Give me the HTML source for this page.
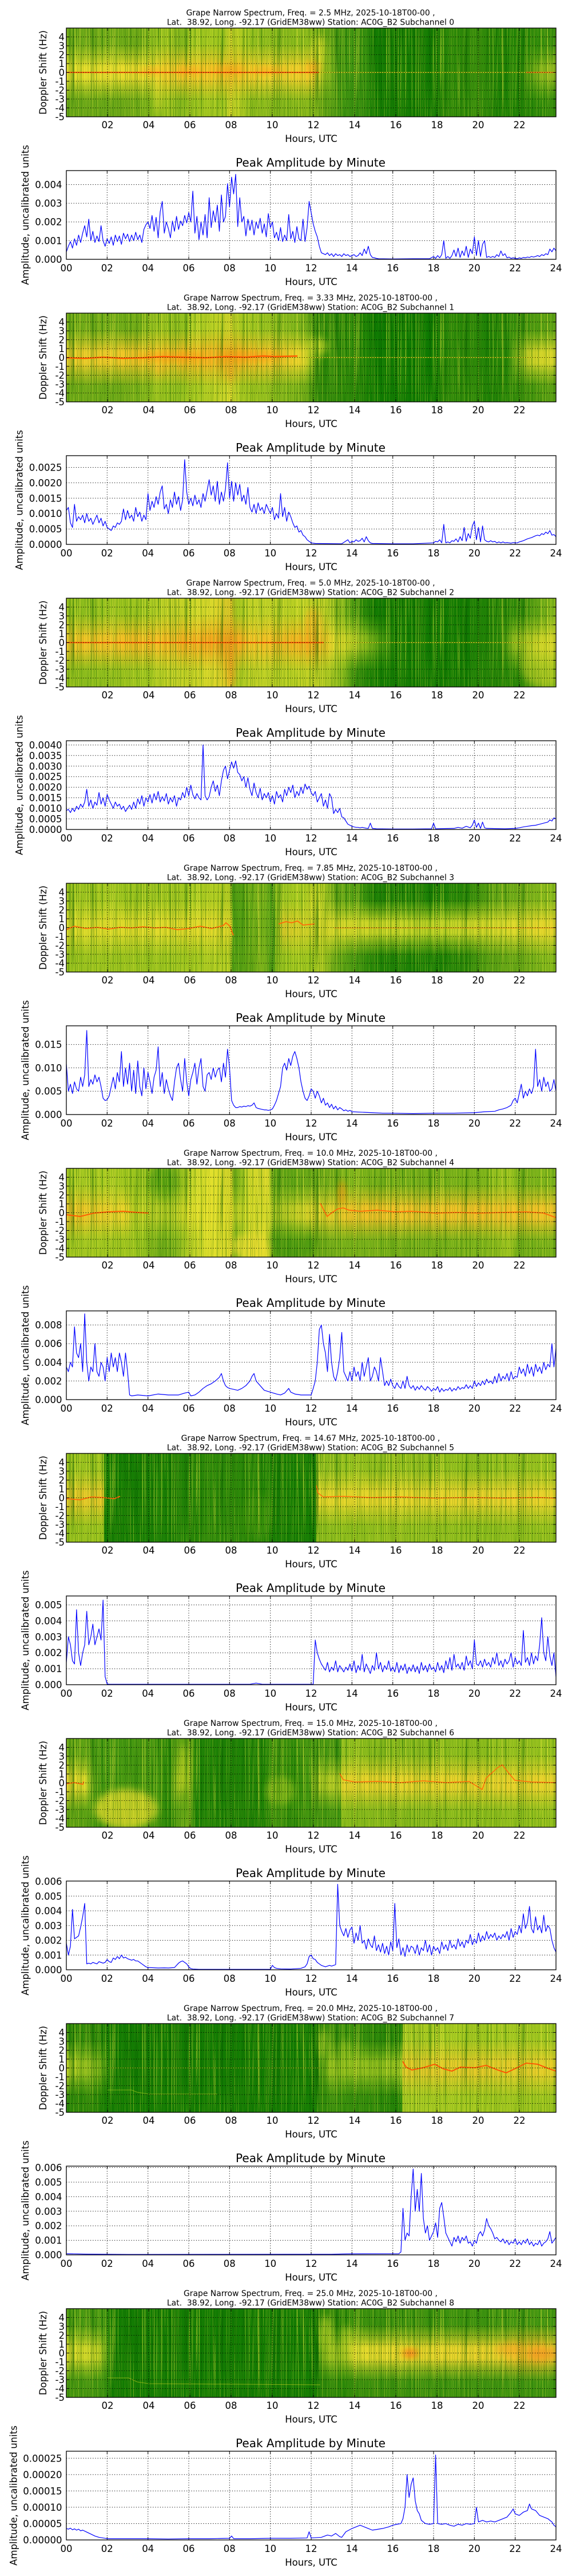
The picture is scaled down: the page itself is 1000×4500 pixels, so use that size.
<!DOCTYPE html>
<html><head><meta charset="utf-8"><style>
html,body{margin:0;padding:0;background:#fff}
svg{display:block}
text{font-family:"DejaVu Sans","Liberation Sans",sans-serif;fill:#000}
.st{font-size:13.9px;text-anchor:middle}
.tk{font-size:16.5px}
.tm{text-anchor:middle}
.te{text-anchor:end}
.lt{font-size:20px;text-anchor:middle}
.gd{fill:none;stroke:#000;stroke-width:1;stroke-dasharray:1.2 3}
.dl{fill:none;stroke:#0000ff;stroke-width:1.2;vector-effect:non-scaling-stroke;stroke-linejoin:round}
.fx{filter:url(#bl)}
</style></head><body>
<svg xmlns="http://www.w3.org/2000/svg" width="1000" height="4500" viewBox="0 0 1000 4500">
<defs>
<linearGradient id="vb" x1="0" y1="0" x2="0" y2="1">
<stop offset="0" stop-color="#000"/><stop offset="0.18" stop-color="#000"/><stop offset="0.34" stop-color="#888"/><stop offset="0.44" stop-color="#fff"/><stop offset="0.56" stop-color="#fff"/><stop offset="0.66" stop-color="#888"/><stop offset="0.82" stop-color="#000"/><stop offset="1" stop-color="#000"/>
</linearGradient>
<mask id="mb" maskContentUnits="objectBoundingBox"><rect width="1" height="1" fill="url(#vb)"/></mask>
<filter id="tx" x="0" y="0" width="1" height="1" color-interpolation-filters="sRGB">
<feTurbulence type="fractalNoise" baseFrequency="0.6 0.005" numOctaves="2" seed="4" result="n"/>
<feColorMatrix in="n" type="matrix" values="0 0 0 0 0.03  0 0 0 0 0.35  0 0 0 0 0  3.5 0 0 0 -1.75" result="d"/>
<feColorMatrix in="n" type="matrix" values="0 0 0 0 0.92  0 0 0 0 0.92  0 0 0 0 0.25  0 3.5 0 0 -1.85" result="l"/>
<feMerge><feMergeNode in="d"/><feMergeNode in="l"/></feMerge>
</filter>
<filter id="bl" x="-60%" y="-60%" width="220%" height="220%"><feGaussianBlur stdDeviation="6"/></filter>
<clipPath id="cs"><rect x="116" y="49" width="856" height="155"/></clipPath>
<clipPath id="cl"><rect x="116" y="298" width="856" height="155"/></clipPath>

<linearGradient id="e0" gradientUnits="userSpaceOnUse" x1="116" y1="0" x2="972" y2="0">
<stop offset="0" stop-color="#6daa18"/><stop offset=".084" stop-color="#6aa817"/><stop offset=".147" stop-color="#72ac18"/><stop offset=".181" stop-color="#8dbd1c"/><stop offset=".21" stop-color="#a0c61f"/><stop offset=".231" stop-color="#80b51a"/><stop offset=".252" stop-color="#98c21e"/><stop offset=".294" stop-color="#a3c81f"/><stop offset=".32" stop-color="#9cc41e"/><stop offset=".336" stop-color="#cfd628"/><stop offset=".353" stop-color="#b8cf22"/><stop offset=".378" stop-color="#8fbd1c"/><stop offset=".442" stop-color="#84b71a"/><stop offset=".505" stop-color="#8ab91b"/><stop offset=".53" stop-color="#5fa314"/><stop offset=".568" stop-color="#3d9310"/><stop offset=".61" stop-color="#348e0e"/><stop offset=".631" stop-color="#137c03"/><stop offset=".757" stop-color="#147c03"/><stop offset=".765" stop-color="#2a8708"/><stop offset=".82" stop-color="#2e8909"/><stop offset=".841" stop-color="#3a8f0c"/><stop offset=".883" stop-color="#1d8105"/><stop offset=".925" stop-color="#1f8205"/><stop offset=".967" stop-color="#2e8a0a"/><stop offset="1" stop-color="#3a900d"/>
</linearGradient>
<linearGradient id="b0" gradientUnits="userSpaceOnUse" x1="116" y1="0" x2="972" y2="0">
<stop offset="0" stop-color="#e6df2c"/><stop offset=".168" stop-color="#ecd92c"/><stop offset=".21" stop-color="#f3c828"/><stop offset=".336" stop-color="#f5c426"/><stop offset=".421" stop-color="#efcf2a"/><stop offset=".505" stop-color="#f0c828"/><stop offset=".526" stop-color="#c8d428" stop-opacity=".6"/><stop offset=".547" stop-color="#c8d428" stop-opacity="0"/><stop offset=".925" stop-color="#c8d428" stop-opacity="0"/><stop offset=".967" stop-color="#c8d428" stop-opacity=".5"/><stop offset="1" stop-color="#d0d42a" stop-opacity=".6"/>
</linearGradient>

<linearGradient id="e1" gradientUnits="userSpaceOnUse" x1="116" y1="0" x2="972" y2="0">
<stop offset="0" stop-color="#73ad18"/><stop offset=".084" stop-color="#6ca917"/><stop offset=".147" stop-color="#78b019"/><stop offset=".189" stop-color="#9cc41e"/><stop offset=".231" stop-color="#8dbd1c"/><stop offset=".252" stop-color="#a5c920"/><stop offset=".294" stop-color="#b3cd22"/><stop offset=".336" stop-color="#d6d82a"/><stop offset=".357" stop-color="#a9c920"/><stop offset=".40" stop-color="#95c01d"/><stop offset=".463" stop-color="#80b51a"/><stop offset=".492" stop-color="#6aa816"/><stop offset=".517" stop-color="#2f8a0a"/><stop offset=".589" stop-color="#2a8708"/><stop offset=".631" stop-color="#0f7b02"/><stop offset=".757" stop-color="#0f7b02"/><stop offset=".765" stop-color="#2a8708"/><stop offset=".841" stop-color="#2a8708"/><stop offset=".862" stop-color="#1c8005"/><stop offset=".904" stop-color="#2a8708"/><stop offset="1" stop-color="#5fa314"/>
</linearGradient>
<linearGradient id="b1" gradientUnits="userSpaceOnUse" x1="116" y1="0" x2="972" y2="0">
<stop offset="0" stop-color="#eecd2a"/><stop offset=".168" stop-color="#f3c226"/><stop offset=".252" stop-color="#f5b822"/><stop offset=".336" stop-color="#f5b020"/><stop offset=".421" stop-color="#f3c226"/><stop offset=".484" stop-color="#e8d42a"/><stop offset=".505" stop-color="#c8d428" stop-opacity=".4"/><stop offset=".526" stop-color="#c8d428" stop-opacity="0"/><stop offset=".904" stop-color="#e6dc2c" stop-opacity="0"/><stop offset=".946" stop-color="#e6dc2c" stop-opacity=".8"/><stop offset="1" stop-color="#e8da2c" stop-opacity=".9"/>
</linearGradient>

<linearGradient id="e2" gradientUnits="userSpaceOnUse" x1="116" y1="0" x2="972" y2="0">
<stop offset="0" stop-color="#9cc41e"/><stop offset=".042" stop-color="#8bbd1c"/><stop offset=".105" stop-color="#9ac31e"/><stop offset=".168" stop-color="#a5c920"/><stop offset=".21" stop-color="#c4d226"/><stop offset=".252" stop-color="#c6d326"/><stop offset=".294" stop-color="#d9d82a"/><stop offset=".336" stop-color="#e2c828"/><stop offset=".349" stop-color="#a8c920"/><stop offset=".378" stop-color="#c2d226"/><stop offset=".463" stop-color="#b8cf22"/><stop offset=".505" stop-color="#c4d226"/><stop offset=".526" stop-color="#bcd024"/><stop offset=".568" stop-color="#7db41a"/><stop offset=".589" stop-color="#3a900d"/><stop offset=".631" stop-color="#137c03"/><stop offset=".82" stop-color="#137c03"/><stop offset=".841" stop-color="#1f8206"/><stop offset=".925" stop-color="#2a8708"/><stop offset=".967" stop-color="#5fa314"/><stop offset="1" stop-color="#8dbd1c"/>
</linearGradient>
<linearGradient id="b2" gradientUnits="userSpaceOnUse" x1="116" y1="0" x2="972" y2="0">
<stop offset="0" stop-color="#f3c426"/><stop offset=".21" stop-color="#f4b822"/><stop offset=".336" stop-color="#f4a01c"/><stop offset=".378" stop-color="#f3c426"/><stop offset=".463" stop-color="#f0b420"/><stop offset=".505" stop-color="#f3a81e"/><stop offset=".547" stop-color="#e2d82a"/><stop offset=".589" stop-color="#c2d024" stop-opacity=".8"/><stop offset=".631" stop-color="#a9cb22" stop-opacity=".5"/><stop offset=".673" stop-color="#a9cb22" stop-opacity="0"/><stop offset=".883" stop-color="#c8d426" stop-opacity="0"/><stop offset=".925" stop-color="#c8d426" stop-opacity=".7"/><stop offset="1" stop-color="#e2d82a" stop-opacity=".9"/>
</linearGradient>

<linearGradient id="e3" gradientUnits="userSpaceOnUse" x1="116" y1="0" x2="972" y2="0">
<stop offset="0" stop-color="#9cc41e"/><stop offset=".084" stop-color="#a0c61f"/><stop offset=".168" stop-color="#9cc41e"/><stop offset=".252" stop-color="#a3c81f"/><stop offset=".315" stop-color="#b3cd22"/><stop offset=".332" stop-color="#b8cf22"/><stop offset=".341" stop-color="#4f9d12"/><stop offset=".37" stop-color="#5da313"/><stop offset=".40" stop-color="#7db41a"/><stop offset=".421" stop-color="#3f9410"/><stop offset=".429" stop-color="#8dbd1c"/><stop offset=".463" stop-color="#a3c81f"/><stop offset=".505" stop-color="#9cc41e"/><stop offset=".521" stop-color="#b3cd22"/><stop offset=".547" stop-color="#6aa816"/><stop offset=".589" stop-color="#4a9a11"/><stop offset=".631" stop-color="#1f8206"/><stop offset=".757" stop-color="#1a8005"/><stop offset=".82" stop-color="#2a8708"/><stop offset=".862" stop-color="#5aa113"/><stop offset=".925" stop-color="#6aa816"/><stop offset="1" stop-color="#8dbd1c"/>
</linearGradient>
<linearGradient id="b3" gradientUnits="userSpaceOnUse" x1="116" y1="0" x2="972" y2="0">
<stop offset="0" stop-color="#dedb2a"/><stop offset=".336" stop-color="#e2d82a"/><stop offset=".341" stop-color="#e2d82a" stop-opacity="0"/><stop offset=".429" stop-color="#e6c828" stop-opacity="0"/><stop offset=".442" stop-color="#e6c828" stop-opacity=".8"/><stop offset=".505" stop-color="#dcd42a" stop-opacity=".7"/><stop offset=".547" stop-color="#d9d82a"/><stop offset=".631" stop-color="#c8d426"/><stop offset=".757" stop-color="#b9d024"/><stop offset=".841" stop-color="#cfd628"/><stop offset=".925" stop-color="#dfd82a"/><stop offset="1" stop-color="#e6d22a"/>
</linearGradient>

<linearGradient id="e4" gradientUnits="userSpaceOnUse" x1="116" y1="0" x2="972" y2="0">
<stop offset="0" stop-color="#a9cb22"/><stop offset=".126" stop-color="#a3c81f"/><stop offset=".168" stop-color="#8dbd1c"/><stop offset=".189" stop-color="#6aa816"/><stop offset=".223" stop-color="#7db41a"/><stop offset=".252" stop-color="#b9d024"/><stop offset=".294" stop-color="#e2e02c"/><stop offset=".336" stop-color="#d9d82a"/><stop offset=".345" stop-color="#6aa816"/><stop offset=".362" stop-color="#a9cb22"/><stop offset=".378" stop-color="#d0d628"/><stop offset=".412" stop-color="#dcd92a"/><stop offset=".421" stop-color="#5fa314"/><stop offset=".463" stop-color="#5aa113"/><stop offset=".505" stop-color="#6aa816"/><stop offset=".589" stop-color="#7db41a"/><stop offset=".673" stop-color="#74af18"/><stop offset=".757" stop-color="#74af18"/><stop offset=".841" stop-color="#7db41a"/><stop offset=".904" stop-color="#9cc41e"/><stop offset=".925" stop-color="#74af18"/><stop offset="1" stop-color="#7db41a"/>
</linearGradient>
<linearGradient id="b4" gradientUnits="userSpaceOnUse" x1="116" y1="0" x2="972" y2="0">
<stop offset="0" stop-color="#f0c026"/><stop offset=".126" stop-color="#e8d42a"/><stop offset=".135" stop-color="#d8d828" stop-opacity=".6"/><stop offset=".21" stop-color="#d8d828" stop-opacity=".5"/><stop offset=".252" stop-color="#e8e02c" stop-opacity=".8"/><stop offset=".336" stop-color="#e8e02c" stop-opacity=".6"/><stop offset=".421" stop-color="#cfd628" stop-opacity=".6"/><stop offset=".505" stop-color="#e6d42a" stop-opacity=".9"/><stop offset=".589" stop-color="#f0c026"/><stop offset="1" stop-color="#f0c026"/>
</linearGradient>

<linearGradient id="e5" gradientUnits="userSpaceOnUse" x1="116" y1="0" x2="972" y2="0">
<stop offset="0" stop-color="#9cc41e"/><stop offset=".076" stop-color="#9cc41e"/><stop offset=".078" stop-color="#137c03"/><stop offset=".21" stop-color="#1a8005"/><stop offset=".273" stop-color="#2a8708"/><stop offset=".315" stop-color="#2f8a0a"/><stop offset=".378" stop-color="#2a8708"/><stop offset=".421" stop-color="#1a8005"/><stop offset=".509" stop-color="#137c03"/><stop offset=".511" stop-color="#8dbd1c"/><stop offset=".673" stop-color="#95c01d"/><stop offset=".841" stop-color="#8dbd1c"/><stop offset="1" stop-color="#95c01d"/>
</linearGradient>
<linearGradient id="b5" gradientUnits="userSpaceOnUse" x1="116" y1="0" x2="972" y2="0">
<stop offset="0" stop-color="#e8c828"/><stop offset=".076" stop-color="#e8c828"/><stop offset=".078" stop-color="#e8c828" stop-opacity="0"/><stop offset=".509" stop-color="#e6d62a" stop-opacity="0"/><stop offset=".511" stop-color="#e6d62a"/><stop offset="1" stop-color="#e8d02a"/>
</linearGradient>

<linearGradient id="e6" gradientUnits="userSpaceOnUse" x1="116" y1="0" x2="972" y2="0">
<stop offset="0" stop-color="#6aa816"/><stop offset=".038" stop-color="#5aa113"/><stop offset=".063" stop-color="#3f9410"/><stop offset=".168" stop-color="#4a9a11"/><stop offset=".21" stop-color="#2a8708"/><stop offset=".231" stop-color="#5aa113"/><stop offset=".252" stop-color="#6aa816"/><stop offset=".265" stop-color="#1f8206"/><stop offset=".412" stop-color="#1f8206"/><stop offset=".421" stop-color="#4f9d12"/><stop offset=".463" stop-color="#2a8708"/><stop offset=".505" stop-color="#4a9a11"/><stop offset=".559" stop-color="#3f9410"/><stop offset=".564" stop-color="#8dbd1c"/><stop offset=".673" stop-color="#85b81b"/><stop offset=".841" stop-color="#8dbd1c"/><stop offset="1" stop-color="#95c01d"/>
</linearGradient>
<linearGradient id="b6" gradientUnits="userSpaceOnUse" x1="116" y1="0" x2="972" y2="0">
<stop offset="0" stop-color="#e8d42a"/><stop offset=".038" stop-color="#dcd82a"/><stop offset=".05" stop-color="#c8d426" stop-opacity=".3"/><stop offset=".07" stop-color="#c8d426" stop-opacity="0"/><stop offset=".21" stop-color="#c8d426" stop-opacity="0"/><stop offset=".231" stop-color="#c8d426" stop-opacity=".6"/><stop offset=".261" stop-color="#c8d426" stop-opacity="0"/><stop offset=".496" stop-color="#c8d426" stop-opacity="0"/><stop offset=".513" stop-color="#c8d426" stop-opacity=".7"/><stop offset=".559" stop-color="#cfd628" stop-opacity=".8"/><stop offset=".564" stop-color="#e6d22a"/><stop offset="1" stop-color="#e8d02a"/>
</linearGradient>

<linearGradient id="e7" gradientUnits="userSpaceOnUse" x1="116" y1="0" x2="972" y2="0">
<stop offset="0" stop-color="#2f8a0a"/><stop offset=".063" stop-color="#2a8708"/><stop offset=".084" stop-color="#137c03"/><stop offset=".505" stop-color="#137c03"/><stop offset=".517" stop-color="#2f8a0a"/><stop offset=".547" stop-color="#3a900d"/><stop offset=".631" stop-color="#2f8a0a"/><stop offset=".685" stop-color="#1f8206"/><stop offset=".687" stop-color="#a9cb22"/><stop offset=".841" stop-color="#a3c81f"/><stop offset="1" stop-color="#9cc41e"/>
</linearGradient>
<linearGradient id="b7" gradientUnits="userSpaceOnUse" x1="116" y1="0" x2="972" y2="0">
<stop offset="0" stop-color="#b9d024" stop-opacity=".95"/><stop offset=".063" stop-color="#a9cb22" stop-opacity=".6"/><stop offset=".093" stop-color="#a9cb22" stop-opacity="0"/><stop offset=".513" stop-color="#9cc41e" stop-opacity="0"/><stop offset=".538" stop-color="#9cc41e" stop-opacity=".8"/><stop offset=".685" stop-color="#a9cb22" stop-opacity=".8"/><stop offset=".687" stop-color="#e2c828"/><stop offset="1" stop-color="#e6cc28"/>
</linearGradient>

<linearGradient id="e8" gradientUnits="userSpaceOnUse" x1="116" y1="0" x2="972" y2="0">
<stop offset="0" stop-color="#4a9a11"/><stop offset=".076" stop-color="#3f9410"/><stop offset=".093" stop-color="#137c03"/><stop offset=".505" stop-color="#137c03"/><stop offset=".526" stop-color="#2f8a0a"/><stop offset=".568" stop-color="#2a8708"/><stop offset=".589" stop-color="#3a900d"/><stop offset="1" stop-color="#3f9410"/>
</linearGradient>
<linearGradient id="b8" gradientUnits="userSpaceOnUse" x1="116" y1="0" x2="972" y2="0">
<stop offset="0" stop-color="#d8d82a"/><stop offset=".063" stop-color="#c8d426"/><stop offset=".084" stop-color="#c8d426" stop-opacity=".2"/><stop offset=".097" stop-color="#c8d426" stop-opacity="0"/><stop offset=".513" stop-color="#b9d024" stop-opacity="0"/><stop offset=".526" stop-color="#b9d024" stop-opacity=".7"/><stop offset=".568" stop-color="#c8d426" stop-opacity=".7"/><stop offset=".589" stop-color="#e2da2c"/><stop offset=".694" stop-color="#e6d42a"/><stop offset=".715" stop-color="#e6d42a"/><stop offset=".883" stop-color="#e8d02a"/><stop offset=".925" stop-color="#f0b824"/><stop offset=".967" stop-color="#f0b424"/><stop offset="1" stop-color="#e8c828"/>
</linearGradient>

<g id="sg">
<path class="gd" d="M188 49V204M260 49V204M332 49V204M404 49V204M476 49V204M548 49V204M620 49V204M692 49V204M764 49V204M836 49V204M908 49V204M116 64.5H972M116 80H972M116 95.5H972M116 111H972M116 126.5H972M116 142H972M116 157.5H972M116 173H972M116 188.5H972"/>
<path fill="none" stroke="#000" stroke-width="1" d="M116 64.5h5M116 80h5M116 95.5h5M116 111h5M116 126.5h5M116 142h5M116 157.5h5M116 173h5M116 188.5h5M972 64.5h-5M972 80h-5M972 95.5h-5M972 111h-5M972 126.5h-5M972 142h-5M972 157.5h-5M972 173h-5M972 188.5h-5M188 204v-5M260 204v-5M332 204v-5M404 204v-5M476 204v-5M548 204v-5M620 204v-5M692 204v-5M764 204v-5M836 204v-5M908 204v-5M188 49v5M260 49v5M332 49v5M404 49v5M476 49v5M548 49v5M620 49v5M692 49v5M764 49v5M836 49v5M908 49v5"/>
<rect x="116" y="49" width="856" height="155" fill="none" stroke="#000" stroke-width="1.3"/>
</g>
<g id="lg">
<path class="gd" d="M187.3 298V453M258.7 298V453M330 298V453M401.3 298V453M472.7 298V453M544 298V453M615.3 298V453M686.7 298V453M758 298V453M829.3 298V453M900.7 298V453"/>
<path fill="none" stroke="#000" stroke-width="1" d="M187.3 453v-5M258.7 453v-5M330 453v-5M401.3 453v-5M472.7 453v-5M544 453v-5M615.3 453v-5M686.7 453v-5M758 453v-5M829.3 453v-5M900.7 453v-5M187.3 298v5M258.7 298v5M330 298v5M401.3 298v5M472.7 298v5M544 298v5M615.3 298v5M686.7 298v5M758 298v5M829.3 298v5M900.7 298v5"/>
</g>
<rect id="lb" x="116" y="298" width="856" height="155" fill="none" stroke="#000" stroke-width="1.3"/>
</defs>

<rect width="1000" height="4500" fill="#fff"/>

<!-- ================= PAIR 0 ================= -->
<g transform="translate(0,0)">
<text class="st" x="543" y="26.8">Grape Narrow Spectrum, Freq. = 2.5 MHz, 2025-10-18T00-00 ,</text>
<text class="st" x="543" y="43.6">Lat.&#160; 38.92, Long. -92.17 (GridEM38ww) Station: AC0G_B2 Subchannel 0</text>
<g clip-path="url(#cs)">
<rect x="116" y="49" width="856" height="155" fill="url(#e0)"/>
<ellipse class="fx" cx="278" cy="160" rx="10" ry="35" fill="#c8d426" opacity=".6"/>
<ellipse class="fx" cx="557" cy="92" rx="12" ry="30" fill="#d8dc28" opacity=".8"/>
<rect x="116" y="49" width="856" height="155" fill="url(#b0)" mask="url(#mb)"/>
<rect x="116" y="49" width="856" height="155" filter="url(#tx)" opacity=".6"/>
<ellipse class="fx" cx="265" cy="124" rx="20" ry="5" fill="#ff9a14" opacity=".55"/>
<ellipse class="fx" cx="330" cy="124" rx="25" ry="5" fill="#ff9a14" opacity=".55"/>
<ellipse class="fx" cx="400" cy="122" rx="30" ry="6" fill="#ff9a14" opacity=".55"/>
<ellipse class="fx" cx="470" cy="123" rx="30" ry="5" fill="#ff9a14" opacity=".55"/>
<ellipse class="fx" cx="548" cy="118" rx="12" ry="8" fill="#ff9a14" opacity=".55"/>
<path d="M116 126.5H557" stroke="#ff3a00" stroke-width="1.8" fill="none"/>
<path d="M557 126.5H972" stroke="#e0d820" stroke-width="1.3" fill="none"/>
<path d="M920 126.5H972" stroke="#ff7a10" stroke-width="1.8" fill="none"/>
</g>
<use href="#sg"/>
<g class="tk te"><text x="113" y="70.7">4</text><text x="113" y="86.2">3</text><text x="113" y="101.7">2</text><text x="113" y="117.2">1</text><text x="113" y="132.7">0</text><text x="113" y="148.2">-1</text><text x="113" y="163.7">-2</text><text x="113" y="179.2">-3</text><text x="113" y="194.7">-4</text><text x="113" y="210.2">-5</text></g>
<g class="tk tm"><text x="188" y="224">02</text><text x="260" y="224">04</text><text x="332" y="224">06</text><text x="404" y="224">08</text><text x="476" y="224">10</text><text x="548" y="224">12</text><text x="620" y="224">14</text><text x="692" y="224">16</text><text x="764" y="224">18</text><text x="836" y="224">20</text><text x="908" y="224">22</text></g>
<text class="tk tm" x="544" y="248">Hours, UTC</text>
<text class="tk tm" transform="translate(81,126.5) rotate(-90)">Doppler Shift (Hz)</text>
<text class="lt" x="543" y="291">Peak Amplitude by Minute</text>
<use href="#lg"/>
<path class="gd" d="M116 420.4H972M116 387.7H972M116 355.1H972M116 322.5H972"/>
<g clip-path="url(#cl)"><polyline class="dl" transform="translate(116,453) scale(3.56667,-0.32632)" points="0,40 1,70 2,95 3,60 4,110 5,75 6,130 7,90 8,140 9,180 10,120 11,215 12,100 13,150 14,90 15,125 16,95 17,180 18,100 19,70 20,110 21,85 22,120 23,75 24,130 25,95 26,125 27,80 28,140 29,110 30,135 31,95 32,130 33,100 34,145 35,105 36,130 37,90 38,160 39,185 40,200 41,165 42,235 43,150 44,225 45,115 46,255 47,310 48,140 49,200 50,165 51,115 52,205 53,150 54,230 55,160 56,205 57,180 58,235 59,195 60,250 61,200 62,365 63,140 64,230 65,105 66,200 67,130 68,240 69,115 70,330 71,170 72,260 73,200 74,290 75,150 76,345 77,200 78,230 79,405 80,280 81,440 82,350 83,455 84,175 85,330 86,200 87,230 88,125 89,215 90,155 91,210 92,130 93,200 94,165 95,220 96,140 97,190 98,120 99,245 100,170 101,200 102,115 103,145 104,100 105,170 106,95 107,130 108,100 109,240 110,110 111,150 112,90 113,175 114,110 115,100 116,215 117,95 118,170 119,310 120,250 121,190 122,150 123,120 124,70 125,35 126,30 127,25 128,35 129,20 130,30 131,15 132,30 133,20 134,25 135,15 136,30 137,20 138,25 139,15 140,20 141,25 142,15 143,20 144,35 145,20 146,55 147,30 148,70 149,25 150,10 151,8 152,5 153,3 160,2 170,3 178,3 180,15 181,5 182,20 183,8 184,25 185,100 186,5 187,15 188,5 189,20 190,50 191,15 192,60 193,10 194,45 195,20 196,70 197,10 198,55 199,30 200,120 201,20 202,100 203,15 204,80 205,100 206,10 207,15 208,10 209,15 210,10 211,25 212,15 213,45 214,20 215,30 216,8 217,12 218,5 219,8 220,5 221,3 222,8 223,5 224,10 225,8 226,12 227,10 228,15 229,12 230,15 231,20 232,15 233,25 234,20 235,30 236,25 237,55 238,40 239,60 240,45"/></g>
<use href="#lb"/>
<g class="tk te"><text x="108.5" y="459">0.000</text><text x="108.5" y="426.4">0.001</text><text x="108.5" y="393.7">0.002</text><text x="108.5" y="361.1">0.003</text><text x="108.5" y="328.5">0.004</text></g>
<g class="tk tm"><text x="116" y="474">00</text><text x="187.3" y="474">02</text><text x="258.7" y="474">04</text><text x="330" y="474">06</text><text x="401.3" y="474">08</text><text x="472.7" y="474">10</text><text x="544" y="474">12</text><text x="615.3" y="474">14</text><text x="686.7" y="474">16</text><text x="758" y="474">18</text><text x="829.3" y="474">20</text><text x="900.7" y="474">22</text><text x="972" y="474">24</text></g>
<text class="tk tm" x="544" y="498">Hours, UTC</text>
<text class="tk tm" transform="translate(50,375.5) rotate(-90)">Amplitude, uncalibrated units</text>
</g>

<!-- ================= PAIR 1 ================= -->
<g transform="translate(0,498)">
<text class="st" x="543" y="26.8">Grape Narrow Spectrum, Freq. = 3.33 MHz, 2025-10-18T00-00 ,</text>
<text class="st" x="543" y="43.6">Lat.&#160; 38.92, Long. -92.17 (GridEM38ww) Station: AC0G_B2 Subchannel 1</text>
<g clip-path="url(#cs)">
<rect x="116" y="49" width="856" height="155" fill="url(#e1)"/>
<ellipse class="fx" cx="278" cy="142" rx="10" ry="14" fill="#f0a020" opacity=".6"/>
<ellipse class="fx" cx="404" cy="148" rx="8" ry="20" fill="#f0a020" opacity=".6"/>
<ellipse class="fx" cx="555" cy="108" rx="18" ry="16" fill="#b9d024" opacity=".8"/>
<rect x="116" y="49" width="856" height="155" fill="url(#b1)" mask="url(#mb)"/>
<rect x="116" y="49" width="856" height="155" filter="url(#tx)" opacity=".6"/>
<ellipse class="fx" cx="300" cy="125" rx="60" ry="6" fill="#ff8a10" opacity=".5"/>
<ellipse class="fx" cx="440" cy="124" rx="60" ry="6" fill="#ff8a10" opacity=".5"/>
<polyline points="116,127 150,128 180,126 215,128 250,127 285,125 320,126 360,127 395,125 430,126 460,124 480,125 520,124" stroke="#ff5a00" stroke-width="2.5" fill="none"/>
<path d="M520 126.5H972" stroke="#d8d820" stroke-width="1.2" fill="none"/>
</g>
<use href="#sg"/>
<g class="tk te"><text x="113" y="70.7">4</text><text x="113" y="86.2">3</text><text x="113" y="101.7">2</text><text x="113" y="117.2">1</text><text x="113" y="132.7">0</text><text x="113" y="148.2">-1</text><text x="113" y="163.7">-2</text><text x="113" y="179.2">-3</text><text x="113" y="194.7">-4</text><text x="113" y="210.2">-5</text></g>
<g class="tk tm"><text x="188" y="224">02</text><text x="260" y="224">04</text><text x="332" y="224">06</text><text x="404" y="224">08</text><text x="476" y="224">10</text><text x="548" y="224">12</text><text x="620" y="224">14</text><text x="692" y="224">16</text><text x="764" y="224">18</text><text x="836" y="224">20</text><text x="908" y="224">22</text></g>
<text class="tk tm" x="544" y="248">Hours, UTC</text>
<text class="tk tm" transform="translate(81,126.5) rotate(-90)">Doppler Shift (Hz)</text>
<text class="lt" x="543" y="291">Peak Amplitude by Minute</text>
<use href="#lg"/>
<path class="gd" d="M116 426.1H972M116 399.2H972M116 372.3H972M116 345.4H972M116 318.5H972"/>
<g clip-path="url(#cl)"><polyline class="dl" transform="translate(116,453) scale(3.56667,-0.53819)" points="0,110 1,120 2,70 3,55 4,130 5,75 6,90 7,80 8,95 9,70 10,100 11,75 12,85 13,65 14,80 15,95 16,70 17,85 18,60 19,75 20,55 21,50 22,45 23,60 24,55 25,70 26,65 27,75 28,115 29,80 30,110 31,85 32,95 33,75 34,120 35,90 36,105 37,75 38,95 39,80 40,165 41,110 42,140 43,120 44,155 45,130 46,170 47,190 48,115 49,130 50,100 51,145 52,120 53,170 54,130 55,155 56,110 57,145 58,275 59,170 60,130 61,150 62,125 63,160 64,130 65,145 66,120 67,165 68,140 69,175 70,210 71,160 72,190 73,140 74,205 75,130 76,170 77,140 78,180 79,265 80,150 81,205 82,140 83,200 84,160 85,195 86,140 87,160 88,130 89,185 90,120 91,105 92,130 93,100 94,135 95,110 96,120 97,100 98,130 99,115 100,100 101,120 102,80 103,100 104,85 105,165 106,90 107,120 108,75 109,105 110,90 111,70 112,55 113,60 114,40 115,45 116,30 117,25 118,15 119,10 120,5 122,3 135,2 138,15 139,5 140,10 141,8 142,15 143,10 144,12 145,20 146,8 147,25 148,12 149,5 150,3 160,2 170,2 180,5 181,10 182,8 183,15 184,5 185,65 186,5 187,8 188,5 189,12 190,10 191,18 192,8 193,25 194,12 195,55 196,10 197,35 198,20 199,60 200,75 201,15 202,55 203,8 204,60 205,15 206,10 207,8 208,12 209,8 210,10 211,5 212,8 213,5 214,8 215,5 216,6 217,5 218,4 219,6 220,5 221,5 222,8 223,10 224,12 225,15 226,18 227,20 228,22 229,25 230,28 231,30 232,28 233,35 234,32 235,40 236,35 237,45 238,30 239,32 240,25"/></g>
<use href="#lb"/>
<g class="tk te"><text x="108.5" y="459">0.0000</text><text x="108.5" y="432.1">0.0005</text><text x="108.5" y="405.2">0.0010</text><text x="108.5" y="378.3">0.0015</text><text x="108.5" y="351.4">0.0020</text><text x="108.5" y="324.5">0.0025</text></g>
<g class="tk tm"><text x="116" y="474">00</text><text x="187.3" y="474">02</text><text x="258.7" y="474">04</text><text x="330" y="474">06</text><text x="401.3" y="474">08</text><text x="472.7" y="474">10</text><text x="544" y="474">12</text><text x="615.3" y="474">14</text><text x="686.7" y="474">16</text><text x="758" y="474">18</text><text x="829.3" y="474">20</text><text x="900.7" y="474">22</text><text x="972" y="474">24</text></g>
<text class="tk tm" x="544" y="498">Hours, UTC</text>
<text class="tk tm" transform="translate(39.5,375.5) rotate(-90)">Amplitude, uncalibrated units</text>
</g>

<!-- ================= PAIR 2 ================= -->
<g transform="translate(0,996)">
<text class="st" x="543" y="26.8">Grape Narrow Spectrum, Freq. = 5.0 MHz, 2025-10-18T00-00 ,</text>
<text class="st" x="543" y="43.6">Lat.&#160; 38.92, Long. -92.17 (GridEM38ww) Station: AC0G_B2 Subchannel 2</text>
<g clip-path="url(#cs)">
<rect x="116" y="49" width="856" height="155" fill="url(#e2)"/>
<ellipse class="fx" cx="404" cy="165" rx="9" ry="40" fill="#f29c1c" opacity=".6"/>
<ellipse class="fx" cx="950" cy="165" rx="40" ry="40" fill="#c8d426" opacity=".6"/>
<ellipse class="fx" cx="548" cy="95" rx="14" ry="30" fill="#f2b424" opacity=".8"/>
<rect x="116" y="49" width="856" height="155" fill="url(#b2)" mask="url(#mb)"/>
<rect x="116" y="49" width="856" height="155" filter="url(#tx)" opacity=".6"/>
<path d="M116 126.5H566" stroke="#ff5000" stroke-width="2" fill="none"/>
<path d="M566 126.5H972" stroke="#d8d820" stroke-width="1.2" fill="none"/>
</g>
<use href="#sg"/>
<g class="tk te"><text x="113" y="70.7">4</text><text x="113" y="86.2">3</text><text x="113" y="101.7">2</text><text x="113" y="117.2">1</text><text x="113" y="132.7">0</text><text x="113" y="148.2">-1</text><text x="113" y="163.7">-2</text><text x="113" y="179.2">-3</text><text x="113" y="194.7">-4</text><text x="113" y="210.2">-5</text></g>
<g class="tk tm"><text x="188" y="224">02</text><text x="260" y="224">04</text><text x="332" y="224">06</text><text x="404" y="224">08</text><text x="476" y="224">10</text><text x="548" y="224">12</text><text x="620" y="224">14</text><text x="692" y="224">16</text><text x="764" y="224">18</text><text x="836" y="224">20</text><text x="908" y="224">22</text></g>
<text class="tk tm" x="544" y="248">Hours, UTC</text>
<text class="tk tm" transform="translate(81,126.5) rotate(-90)">Doppler Shift (Hz)</text>
<text class="lt" x="543" y="291">Peak Amplitude by Minute</text>
<use href="#lg"/>
<path class="gd" d="M116 434.5H972M116 416.1H972M116 397.6H972M116 379.2H972M116 360.7H972M116 342.3H972M116 323.8H972M116 305.4H972"/>
<g clip-path="url(#cl)"><polyline class="dl" transform="translate(116,453) scale(3.56667,-0.36905)" points="0,90 1,95 2,80 3,100 4,85 5,110 6,95 7,120 8,105 9,130 10,190 11,110 12,140 13,100 14,130 15,115 16,175 17,120 18,150 19,110 20,165 21,140 22,120 23,100 24,130 25,110 26,120 27,95 28,110 29,85 30,100 31,115 32,95 33,130 34,100 35,145 36,120 37,160 38,110 39,150 40,130 41,165 42,125 43,170 44,140 45,180 46,130 47,155 48,135 49,170 50,120 51,150 52,130 53,160 54,110 55,150 56,140 57,175 58,150 59,200 60,160 61,210 62,165 63,145 64,170 65,150 66,140 67,400 68,160 69,140 70,155 71,200 72,230 73,180 74,210 75,160 76,230 77,280 78,300 79,240 80,280 81,320 82,290 83,325 84,270 85,260 86,230 87,250 88,200 89,245 90,190 91,160 92,220 93,175 94,150 95,195 96,140 97,170 98,150 99,175 100,130 101,160 102,120 103,180 104,150 105,165 106,130 107,190 108,160 109,200 110,175 111,210 112,150 113,180 114,160 115,200 116,170 117,215 118,190 119,205 120,175 121,160 122,180 123,130 124,150 125,170 126,110 127,140 128,100 129,170 130,150 131,75 132,95 133,80 134,100 135,60 136,55 137,40 138,25 139,20 140,15 141,12 142,10 143,10 144,8 145,10 146,8 147,6 148,5 149,30 150,5 152,3 160,2 170,2 179,3 180,30 181,3 185,4 190,5 192,10 194,6 196,15 198,8 199,20 200,45 201,10 202,30 203,5 204,35 205,8 206,5 210,4 215,3 220,5 222,8 224,12 226,15 228,18 230,20 232,25 234,30 236,35 237,45 238,40 239,55 240,50"/></g>
<use href="#lb"/>
<g class="tk te"><text x="108.5" y="459">0.0000</text><text x="108.5" y="440.5">0.0005</text><text x="108.5" y="422.1">0.0010</text><text x="108.5" y="403.6">0.0015</text><text x="108.5" y="385.2">0.0020</text><text x="108.5" y="366.7">0.0025</text><text x="108.5" y="348.3">0.0030</text><text x="108.5" y="329.8">0.0035</text><text x="108.5" y="311.4">0.0040</text></g>
<g class="tk tm"><text x="116" y="474">00</text><text x="187.3" y="474">02</text><text x="258.7" y="474">04</text><text x="330" y="474">06</text><text x="401.3" y="474">08</text><text x="472.7" y="474">10</text><text x="544" y="474">12</text><text x="615.3" y="474">14</text><text x="686.7" y="474">16</text><text x="758" y="474">18</text><text x="829.3" y="474">20</text><text x="900.7" y="474">22</text><text x="972" y="474">24</text></g>
<text class="tk tm" x="544" y="498">Hours, UTC</text>
<text class="tk tm" transform="translate(39.5,375.5) rotate(-90)">Amplitude, uncalibrated units</text>
</g>

<!-- ================= PAIR 3 ================= -->
<g transform="translate(0,1494)">
<text class="st" x="543" y="26.8">Grape Narrow Spectrum, Freq. = 7.85 MHz, 2025-10-18T00-00 ,</text>
<text class="st" x="543" y="43.6">Lat.&#160; 38.92, Long. -92.17 (GridEM38ww) Station: AC0G_B2 Subchannel 3</text>
<g clip-path="url(#cs)">
<rect x="116" y="49" width="856" height="155" fill="url(#e3)"/>
<ellipse class="fx" cx="548" cy="80" rx="8" ry="35" fill="#e6de2a" opacity=".7"/>
<rect x="116" y="49" width="856" height="155" fill="url(#b3)" mask="url(#mb)"/>
<rect x="116" y="49" width="856" height="155" filter="url(#tx)" opacity=".6"/>
<polyline points="116,130 130,124 150,128 170,126 190,129 210,126 230,127 250,125 270,127 290,126 310,130 330,128 350,124 370,128 390,123 395,118 402,124 408,140" stroke="#ff6a08" stroke-width="1.8" fill="none"/>
<polyline points="487,120 500,116 510,118 520,115 530,122 550,120" stroke="#ff6a08" stroke-width="1.8" fill="none"/>
<path d="M584 127H972" stroke="#f08a10" stroke-width="1.3" fill="none" opacity=".85"/>
</g>
<use href="#sg"/>
<g class="tk te"><text x="113" y="70.7">4</text><text x="113" y="86.2">3</text><text x="113" y="101.7">2</text><text x="113" y="117.2">1</text><text x="113" y="132.7">0</text><text x="113" y="148.2">-1</text><text x="113" y="163.7">-2</text><text x="113" y="179.2">-3</text><text x="113" y="194.7">-4</text><text x="113" y="210.2">-5</text></g>
<g class="tk tm"><text x="188" y="224">02</text><text x="260" y="224">04</text><text x="332" y="224">06</text><text x="404" y="224">08</text><text x="476" y="224">10</text><text x="548" y="224">12</text><text x="620" y="224">14</text><text x="692" y="224">16</text><text x="764" y="224">18</text><text x="836" y="224">20</text><text x="908" y="224">22</text></g>
<text class="tk tm" x="544" y="248">Hours, UTC</text>
<text class="tk tm" transform="translate(81,126.5) rotate(-90)">Doppler Shift (Hz)</text>
<text class="lt" x="543" y="291">Peak Amplitude by Minute</text>
<use href="#lg"/>
<path class="gd" d="M116 412.2H972M116 371.4H972M116 330.6H972"/>
<g clip-path="url(#cl)"><polyline class="dl" transform="translate(116,453) scale(3.56667,-0.81579)" points="0,108 1,50 2,65 3,45 4,70 5,55 6,50 7,80 8,60 9,85 10,180 11,60 12,75 13,65 14,85 15,70 16,80 17,60 18,35 19,30 20,32 21,40 22,60 23,80 24,55 25,90 26,70 27,135 28,60 29,100 30,65 31,110 32,50 33,95 34,45 35,115 36,60 37,40 38,100 39,55 40,90 41,70 42,45 43,80 44,95 45,145 46,60 47,90 48,45 49,75 50,55 51,40 52,30 53,70 54,100 55,110 56,75 57,50 58,120 59,70 60,40 61,75 62,90 63,110 64,65 65,100 66,120 67,60 68,50 69,85 70,90 71,75 72,100 73,80 74,95 75,100 76,70 77,110 78,80 79,140 80,100 81,30 82,20 83,15 84,15 85,17 86,16 87,18 88,17 89,19 90,18 91,20 92,25 93,15 94,13 95,12 96,11 97,10 98,10 99,9 100,10 101,12 102,20 103,30 104,45 105,60 106,100 107,110 108,95 109,120 110,105 111,125 112,135 113,120 114,100 115,70 116,50 117,35 118,30 119,40 120,55 121,50 122,35 123,50 124,40 125,25 126,35 127,20 128,25 129,15 130,22 131,12 132,18 133,10 134,15 135,12 136,8 137,10 138,7 139,9 140,6 145,5 150,4 155,3 160,3 170,2 180,3 190,3 200,4 205,6 210,7 212,10 214,12 216,15 218,20 219,30 220,35 221,25 222,45 223,65 224,35 225,50 226,40 227,55 228,45 229,60 230,140 231,60 232,75 233,50 234,80 235,60 236,70 237,50 238,55 239,75 240,50"/></g>
<use href="#lb"/>
<g class="tk te"><text x="108.5" y="459">0.000</text><text x="108.5" y="418.2">0.005</text><text x="108.5" y="377.4">0.010</text><text x="108.5" y="336.6">0.015</text></g>
<g class="tk tm"><text x="116" y="474">00</text><text x="187.3" y="474">02</text><text x="258.7" y="474">04</text><text x="330" y="474">06</text><text x="401.3" y="474">08</text><text x="472.7" y="474">10</text><text x="544" y="474">12</text><text x="615.3" y="474">14</text><text x="686.7" y="474">16</text><text x="758" y="474">18</text><text x="829.3" y="474">20</text><text x="900.7" y="474">22</text><text x="972" y="474">24</text></g>
<text class="tk tm" x="544" y="498">Hours, UTC</text>
<text class="tk tm" transform="translate(50,375.5) rotate(-90)">Amplitude, uncalibrated units</text>
</g>

<!-- ================= PAIR 4 ================= -->
<g transform="translate(0,1992)">
<text class="st" x="543" y="26.8">Grape Narrow Spectrum, Freq. = 10.0 MHz, 2025-10-18T00-00 ,</text>
<text class="st" x="543" y="43.6">Lat.&#160; 38.92, Long. -92.17 (GridEM38ww) Station: AC0G_B2 Subchannel 4</text>
<g clip-path="url(#cs)">
<rect x="116" y="49" width="856" height="155" fill="url(#e4)"/>
<ellipse class="fx" cx="285" cy="75" rx="25" ry="30" fill="#4a9a11" opacity=".7"/>
<ellipse class="fx" cx="440" cy="185" rx="35" ry="25" fill="#f0e030" opacity=".8"/>
<ellipse class="fx" cx="510" cy="175" rx="40" ry="35" fill="#3f9410" opacity=".6"/>
<rect x="116" y="49" width="856" height="155" fill="url(#b4)" mask="url(#mb)"/>
<rect x="116" y="49" width="856" height="155" filter="url(#tx)" opacity=".6"/>
<ellipse class="fx" cx="598" cy="92" rx="5" ry="22" fill="#ff8a10" opacity=".7"/>
<polyline points="116,130 140,133 165,127 190,125 215,124 240,126 260,127" stroke="#ff5a00" stroke-width="1.9" fill="none"/>
<polyline points="560,110 566,122 572,133 578,128 590,120 600,118 610,122 630,124 660,122 690,125 720,124 760,127 800,126 840,127 880,126 920,125 950,127 972,135" stroke="#ff6a08" stroke-width="1.8" fill="none"/>
</g>
<use href="#sg"/>
<g class="tk te"><text x="113" y="70.7">4</text><text x="113" y="86.2">3</text><text x="113" y="101.7">2</text><text x="113" y="117.2">1</text><text x="113" y="132.7">0</text><text x="113" y="148.2">-1</text><text x="113" y="163.7">-2</text><text x="113" y="179.2">-3</text><text x="113" y="194.7">-4</text><text x="113" y="210.2">-5</text></g>
<g class="tk tm"><text x="188" y="224">02</text><text x="260" y="224">04</text><text x="332" y="224">06</text><text x="404" y="224">08</text><text x="476" y="224">10</text><text x="548" y="224">12</text><text x="620" y="224">14</text><text x="692" y="224">16</text><text x="764" y="224">18</text><text x="836" y="224">20</text><text x="908" y="224">22</text></g>
<text class="tk tm" x="544" y="248">Hours, UTC</text>
<text class="tk tm" transform="translate(81,126.5) rotate(-90)">Doppler Shift (Hz)</text>
<text class="lt" x="543" y="291">Peak Amplitude by Minute</text>
<use href="#lg"/>
<path class="gd" d="M116 420.4H972M116 387.8H972M116 355.2H972M116 322.6H972"/>
<g clip-path="url(#cl)"><polyline class="dl" transform="translate(116,453) scale(3.56667,-1.62986)" points="0,35 1,30 2,40 3,35 4,78 5,50 6,45 7,60 8,30 9,92 10,40 11,20 12,35 13,30 14,60 15,30 16,25 17,40 18,35 19,20 20,45 21,30 22,50 23,35 24,45 25,30 26,50 27,40 28,25 29,50 30,30 31,5 32,4 35,5 40,4 45,6 50,5 55,5 58,7 60,8 61,4 63,5 65,8 67,12 69,15 71,17 73,20 75,24 76,28 77,20 78,15 79,13 80,12 82,11 84,10 86,12 88,15 90,20 91,25 92,28 93,20 95,15 97,10 100,8 103,6 105,5 107,7 109,12 110,8 112,6 115,5 118,5 120,5 121,12 122,20 123,40 124,75 125,80 126,60 127,50 128,30 129,70 130,40 131,25 132,20 133,30 134,45 135,72 136,30 137,25 138,20 139,30 140,20 141,35 142,25 143,30 144,20 145,40 146,25 147,35 148,45 149,20 150,25 151,35 152,30 153,20 154,45 155,30 156,15 157,20 158,15 159,22 160,15 161,12 162,18 163,14 164,12 165,20 166,12 167,25 168,15 169,12 170,15 171,10 172,14 173,11 174,15 175,12 176,10 177,14 178,12 179,9 180,12 181,10 182,14 183,8 184,12 185,9 186,11 187,10 188,13 189,9 190,12 191,10 192,14 193,11 194,13 195,12 196,16 197,12 198,15 199,12 200,20 201,14 202,18 203,15 204,20 205,16 206,22 207,18 208,20 209,17 210,25 211,18 212,28 213,20 214,25 215,22 216,28 217,20 218,30 219,22 220,25 221,24 222,35 223,28 224,33 225,25 226,38 227,28 228,35 229,25 230,38 231,30 232,35 233,28 234,40 235,32 236,38 237,35 238,60 239,35 240,55"/></g>
<use href="#lb"/>
<g class="tk te"><text x="108.5" y="459">0.000</text><text x="108.5" y="426.4">0.002</text><text x="108.5" y="393.8">0.004</text><text x="108.5" y="361.2">0.006</text><text x="108.5" y="328.6">0.008</text></g>
<g class="tk tm"><text x="116" y="474">00</text><text x="187.3" y="474">02</text><text x="258.7" y="474">04</text><text x="330" y="474">06</text><text x="401.3" y="474">08</text><text x="472.7" y="474">10</text><text x="544" y="474">12</text><text x="615.3" y="474">14</text><text x="686.7" y="474">16</text><text x="758" y="474">18</text><text x="829.3" y="474">20</text><text x="900.7" y="474">22</text><text x="972" y="474">24</text></g>
<text class="tk tm" x="544" y="498">Hours, UTC</text>
<text class="tk tm" transform="translate(50,375.5) rotate(-90)">Amplitude, uncalibrated units</text>
</g>

<!-- ================= PAIR 5 ================= -->
<g transform="translate(0,2490)">
<text class="st" x="543" y="26.8">Grape Narrow Spectrum, Freq. = 14.67 MHz, 2025-10-18T00-00 ,</text>
<text class="st" x="543" y="43.6">Lat.&#160; 38.92, Long. -92.17 (GridEM38ww) Station: AC0G_B2 Subchannel 5</text>
<g clip-path="url(#cs)">
<rect x="116" y="49" width="856" height="155" fill="url(#e5)"/>
<ellipse class="fx" cx="451" cy="160" rx="22" ry="40" fill="#4a9a11" opacity=".5"/>
<rect x="116" y="49" width="856" height="155" fill="url(#b5)" mask="url(#mb)"/>
<rect x="116" y="49" width="856" height="155" filter="url(#tx)" opacity=".6"/>
<polyline points="116,128 140,130 160,125 180,126 200,128 210,124" stroke="#ff6a08" stroke-width="1.8" fill="none"/>
<polyline points="553,105 556,118 565,125 600,124 650,126 700,125 760,127 820,126 880,127 940,126 972,127" stroke="#ff6a08" stroke-width="1.4" fill="none"/>
</g>
<use href="#sg"/>
<g class="tk te"><text x="113" y="70.7">4</text><text x="113" y="86.2">3</text><text x="113" y="101.7">2</text><text x="113" y="117.2">1</text><text x="113" y="132.7">0</text><text x="113" y="148.2">-1</text><text x="113" y="163.7">-2</text><text x="113" y="179.2">-3</text><text x="113" y="194.7">-4</text><text x="113" y="210.2">-5</text></g>
<g class="tk tm"><text x="188" y="224">02</text><text x="260" y="224">04</text><text x="332" y="224">06</text><text x="404" y="224">08</text><text x="476" y="224">10</text><text x="548" y="224">12</text><text x="620" y="224">14</text><text x="692" y="224">16</text><text x="764" y="224">18</text><text x="836" y="224">20</text><text x="908" y="224">22</text></g>
<text class="tk tm" x="544" y="248">Hours, UTC</text>
<text class="tk tm" transform="translate(81,126.5) rotate(-90)">Doppler Shift (Hz)</text>
<text class="lt" x="543" y="291">Peak Amplitude by Minute</text>
<use href="#lg"/>
<path class="gd" d="M116 425.1H972M116 397.2H972M116 369.4H972M116 341.5H972M116 313.6H972"/>
<g clip-path="url(#cl)"><polyline class="dl" transform="translate(116,453) scale(3.56667,-0.27878)" points="0,140 1,300 2,250 3,150 4,130 5,470 6,200 7,120 8,200 9,250 10,460 11,250 12,300 13,380 14,250 15,300 16,350 17,280 18,530 19,50 20,5 21,3 90,3 93,10 96,3 121,3 122,280 123,200 124,160 125,130 126,110 127,90 128,140 129,80 130,110 131,90 132,150 133,80 134,120 135,100 136,80 137,110 138,90 139,130 140,85 141,150 142,75 143,120 144,90 145,190 146,80 147,130 148,100 149,70 150,120 151,90 152,200 153,100 154,140 155,80 156,120 157,95 158,150 159,85 160,110 161,80 162,140 163,75 164,120 165,90 166,130 167,70 168,110 169,85 170,125 171,80 172,115 173,70 174,140 175,90 176,120 177,80 178,130 179,95 180,110 181,80 182,140 183,90 184,120 185,75 186,150 187,100 188,170 189,90 190,190 191,110 192,130 193,100 194,140 195,90 196,180 197,120 198,150 199,100 200,280 201,130 202,120 203,150 204,110 205,160 206,120 207,140 208,110 209,170 210,130 211,200 212,120 213,150 214,110 215,160 216,130 217,150 218,200 219,110 220,170 221,130 222,150 223,120 224,340 225,140 226,170 227,120 228,200 229,130 230,180 231,150 232,250 233,420 234,200 235,150 236,300 237,180 238,120 239,200 240,50"/></g>
<use href="#lb"/>
<g class="tk te"><text x="108.5" y="459">0.000</text><text x="108.5" y="431.1">0.001</text><text x="108.5" y="403.2">0.002</text><text x="108.5" y="375.4">0.003</text><text x="108.5" y="347.5">0.004</text><text x="108.5" y="319.6">0.005</text></g>
<g class="tk tm"><text x="116" y="474">00</text><text x="187.3" y="474">02</text><text x="258.7" y="474">04</text><text x="330" y="474">06</text><text x="401.3" y="474">08</text><text x="472.7" y="474">10</text><text x="544" y="474">12</text><text x="615.3" y="474">14</text><text x="686.7" y="474">16</text><text x="758" y="474">18</text><text x="829.3" y="474">20</text><text x="900.7" y="474">22</text><text x="972" y="474">24</text></g>
<text class="tk tm" x="544" y="498">Hours, UTC</text>
<text class="tk tm" transform="translate(50,375.5) rotate(-90)">Amplitude, uncalibrated units</text>
</g>

<!-- ================= PAIR 6 ================= -->
<g transform="translate(0,2988)">
<text class="st" x="543" y="26.8">Grape Narrow Spectrum, Freq. = 15.0 MHz, 2025-10-18T00-00 ,</text>
<text class="st" x="543" y="43.6">Lat.&#160; 38.92, Long. -92.17 (GridEM38ww) Station: AC0G_B2 Subchannel 6</text>
<g clip-path="url(#cs)">
<rect x="116" y="49" width="856" height="155" fill="url(#e6)"/>
<ellipse class="fx" cx="220" cy="172" rx="55" ry="35" fill="#dcd82a" opacity=".85"/>
<ellipse class="fx" cx="321" cy="100" rx="10" ry="40" fill="#b9d024" opacity=".7"/>
<ellipse class="fx" cx="490" cy="140" rx="25" ry="25" fill="#9cc41e" opacity=".6"/>
<rect x="116" y="49" width="856" height="155" fill="url(#b6)" mask="url(#mb)"/>
<rect x="116" y="49" width="856" height="155" filter="url(#tx)" opacity=".6"/>
<polyline points="116,128 130,126 145,129 146,124" stroke="#ff6a08" stroke-width="1.8" fill="none"/>
<polyline points="594,110 600,121 620,125 660,124 700,126 740,123 780,126 820,124 843,138 850,118 870,100 878,95 890,110 900,122 930,125 972,126" stroke="#ff6a08" stroke-width="1.5" fill="none"/>
</g>
<use href="#sg"/>
<g class="tk te"><text x="113" y="70.7">4</text><text x="113" y="86.2">3</text><text x="113" y="101.7">2</text><text x="113" y="117.2">1</text><text x="113" y="132.7">0</text><text x="113" y="148.2">-1</text><text x="113" y="163.7">-2</text><text x="113" y="179.2">-3</text><text x="113" y="194.7">-4</text><text x="113" y="210.2">-5</text></g>
<g class="tk tm"><text x="188" y="224">02</text><text x="260" y="224">04</text><text x="332" y="224">06</text><text x="404" y="224">08</text><text x="476" y="224">10</text><text x="548" y="224">12</text><text x="620" y="224">14</text><text x="692" y="224">16</text><text x="764" y="224">18</text><text x="836" y="224">20</text><text x="908" y="224">22</text></g>
<text class="tk tm" x="544" y="248">Hours, UTC</text>
<text class="tk tm" transform="translate(81,126.5) rotate(-90)">Doppler Shift (Hz)</text>
<text class="lt" x="543" y="291">Peak Amplitude by Minute</text>
<use href="#lg"/>
<path class="gd" d="M116 427.3H972M116 401.5H972M116 375.8H972M116 350H972M116 324.3H972"/>
<g clip-path="url(#cl)"><polyline class="dl" transform="translate(116,453) scale(3.56667,-0.25748)" points="0,180 1,100 2,160 3,410 4,210 5,220 6,230 7,290 8,360 9,450 10,40 11,45 12,40 13,50 14,45 15,40 16,55 17,50 18,45 19,50 20,70 21,55 22,50 23,80 24,70 25,90 26,75 27,100 28,80 29,85 30,75 31,70 32,65 33,70 34,60 35,60 36,50 37,40 38,30 39,20 40,15 42,14 45,12 48,13 50,12 53,15 55,45 56,55 57,60 58,50 59,40 60,20 61,8 62,5 65,3 100,3 101,30 102,15 103,10 105,6 110,5 113,8 115,10 117,20 118,40 119,90 120,100 121,75 122,70 123,50 124,40 125,30 126,25 127,20 128,25 129,30 130,25 131,30 132,35 133,580 134,300 135,260 136,230 137,280 138,220 139,270 140,290 141,180 142,250 143,200 144,300 145,180 146,200 147,140 148,210 149,170 150,150 151,230 152,130 153,170 154,120 155,180 156,110 157,160 158,100 159,190 160,130 161,450 162,150 163,210 164,100 165,150 166,90 167,170 168,120 169,160 170,150 171,110 172,170 173,100 174,150 175,130 176,200 177,120 178,170 179,100 180,160 181,130 182,150 183,110 184,190 185,140 186,170 187,130 188,200 189,150 190,170 191,140 192,210 193,160 194,190 195,150 196,200 197,180 198,240 199,170 200,210 201,180 202,250 203,190 204,230 205,200 206,260 207,210 208,240 209,220 210,250 211,200 212,230 213,210 214,240 215,220 216,260 217,200 218,280 219,220 220,260 221,240 222,300 223,250 224,380 225,280 226,320 227,430 228,280 229,250 230,360 231,270 232,300 233,250 234,370 235,260 236,300 237,280 238,200 239,150 240,120"/></g>
<use href="#lb"/>
<g class="tk te"><text x="108.5" y="459">0.000</text><text x="108.5" y="433.3">0.001</text><text x="108.5" y="407.5">0.002</text><text x="108.5" y="381.8">0.003</text><text x="108.5" y="356">0.004</text><text x="108.5" y="330.3">0.005</text><text x="108.5" y="304.5">0.006</text></g>
<g class="tk tm"><text x="116" y="474">00</text><text x="187.3" y="474">02</text><text x="258.7" y="474">04</text><text x="330" y="474">06</text><text x="401.3" y="474">08</text><text x="472.7" y="474">10</text><text x="544" y="474">12</text><text x="615.3" y="474">14</text><text x="686.7" y="474">16</text><text x="758" y="474">18</text><text x="829.3" y="474">20</text><text x="900.7" y="474">22</text><text x="972" y="474">24</text></g>
<text class="tk tm" x="544" y="498">Hours, UTC</text>
<text class="tk tm" transform="translate(50,375.5) rotate(-90)">Amplitude, uncalibrated units</text>
</g>

<!-- ================= PAIR 7 ================= -->
<g transform="translate(0,3486)">
<text class="st" x="543" y="26.8">Grape Narrow Spectrum, Freq. = 20.0 MHz, 2025-10-18T00-00 ,</text>
<text class="st" x="543" y="43.6">Lat.&#160; 38.92, Long. -92.17 (GridEM38ww) Station: AC0G_B2 Subchannel 7</text>
<g clip-path="url(#cs)">
<rect x="116" y="49" width="856" height="155" fill="url(#e7)"/>
<ellipse class="fx" cx="566" cy="85" rx="10" ry="25" fill="#8dbd1c" opacity=".7"/>
<ellipse class="fx" cx="603" cy="95" rx="8" ry="20" fill="#8dbd1c" opacity=".7"/>
<rect x="116" y="49" width="856" height="155" fill="url(#b7)" mask="url(#mb)"/>
<rect x="116" y="49" width="856" height="155" filter="url(#tx)" opacity=".6"/>
<path d="M188 126.5H560" stroke="#b8d020" stroke-width="1" opacity=".7" fill="none"/>
<polyline points="188,165 230,165 240,169 260,172 380,172" stroke="#b8d020" stroke-width="1" opacity=".6" fill="none"/>
<polyline points="704,115 710,125 720,130 740,126 760,120 775,128 790,132 805,125 830,126 850,122 870,130 885,135 900,128 920,118 940,120 960,128 972,132" stroke="#ff5000" stroke-width="1.8" fill="none"/>
</g>
<use href="#sg"/>
<g class="tk te"><text x="113" y="70.7">4</text><text x="113" y="86.2">3</text><text x="113" y="101.7">2</text><text x="113" y="117.2">1</text><text x="113" y="132.7">0</text><text x="113" y="148.2">-1</text><text x="113" y="163.7">-2</text><text x="113" y="179.2">-3</text><text x="113" y="194.7">-4</text><text x="113" y="210.2">-5</text></g>
<g class="tk tm"><text x="188" y="224">02</text><text x="260" y="224">04</text><text x="332" y="224">06</text><text x="404" y="224">08</text><text x="476" y="224">10</text><text x="548" y="224">12</text><text x="620" y="224">14</text><text x="692" y="224">16</text><text x="764" y="224">18</text><text x="836" y="224">20</text><text x="908" y="224">22</text></g>
<text class="tk tm" x="544" y="248">Hours, UTC</text>
<text class="tk tm" transform="translate(81,126.5) rotate(-90)">Doppler Shift (Hz)</text>
<text class="lt" x="543" y="291">Peak Amplitude by Minute</text>
<use href="#lg"/>
<path class="gd" d="M116 427.6H972M116 402.2H972M116 376.8H972M116 351.4H972M116 326H972M116 300.5H972"/>
<g clip-path="url(#cl)"><polyline class="dl" transform="translate(116,453) scale(3.56667,-0.25410)" points="0,8 10,5 30,3 130,4 135,6 140,7 163,8 164,20 165,320 166,100 167,150 168,130 169,400 170,590 171,300 172,450 173,300 174,560 175,250 176,150 177,200 178,100 179,130 180,160 181,220 182,120 183,320 184,360 185,260 186,150 187,120 188,90 189,60 190,120 191,90 192,130 193,80 194,120 195,100 196,130 197,80 198,90 199,60 200,100 201,80 202,140 203,160 204,130 205,170 206,250 207,200 208,180 209,150 210,110 211,120 212,100 213,90 214,110 215,80 216,100 217,70 218,90 219,80 220,110 221,70 222,90 223,70 224,100 225,80 226,110 227,70 228,90 229,60 230,80 231,70 232,100 233,60 234,80 235,90 236,110 237,160 238,80 239,100 240,120"/></g>
<use href="#lb"/>
<g class="tk te"><text x="108.5" y="459">0.000</text><text x="108.5" y="433.6">0.001</text><text x="108.5" y="408.2">0.002</text><text x="108.5" y="382.8">0.003</text><text x="108.5" y="357.4">0.004</text><text x="108.5" y="332">0.005</text><text x="108.5" y="306.5">0.006</text></g>
<g class="tk tm"><text x="116" y="474">00</text><text x="187.3" y="474">02</text><text x="258.7" y="474">04</text><text x="330" y="474">06</text><text x="401.3" y="474">08</text><text x="472.7" y="474">10</text><text x="544" y="474">12</text><text x="615.3" y="474">14</text><text x="686.7" y="474">16</text><text x="758" y="474">18</text><text x="829.3" y="474">20</text><text x="900.7" y="474">22</text><text x="972" y="474">24</text></g>
<text class="tk tm" x="544" y="498">Hours, UTC</text>
<text class="tk tm" transform="translate(50,375.5) rotate(-90)">Amplitude, uncalibrated units</text>
</g>

<!-- ================= PAIR 8 ================= -->
<g transform="translate(0,3984)">
<text class="st" x="543" y="26.8">Grape Narrow Spectrum, Freq. = 25.0 MHz, 2025-10-18T00-00 ,</text>
<text class="st" x="543" y="43.6">Lat.&#160; 38.92, Long. -92.17 (GridEM38ww) Station: AC0G_B2 Subchannel 8</text>
<g clip-path="url(#cs)">
<rect x="116" y="49" width="856" height="155" fill="url(#e8)"/>
<ellipse class="fx" cx="570" cy="90" rx="10" ry="28" fill="#a9cb22" opacity=".8"/>
<ellipse class="fx" cx="606" cy="100" rx="8" ry="22" fill="#a9cb22" opacity=".7"/>
<rect x="116" y="49" width="856" height="155" fill="url(#b8)" mask="url(#mb)"/>
<rect x="116" y="49" width="856" height="155" filter="url(#tx)" opacity=".6"/>
<ellipse class="fx" cx="717" cy="127" rx="14" ry="6" fill="#ff6010" opacity=".8"/>
<ellipse class="fx" cx="890" cy="120" rx="25" ry="10" fill="#f0a020" opacity=".5"/>
<ellipse class="fx" cx="950" cy="128" rx="30" ry="10" fill="#f09020" opacity=".6"/>
<polyline points="188,170 225,170 240,177 260,180 560,182" stroke="#c8d020" stroke-width="1" opacity=".6" fill="none"/>
</g>
<use href="#sg"/>
<g class="tk te"><text x="113" y="70.7">4</text><text x="113" y="86.2">3</text><text x="113" y="101.7">2</text><text x="113" y="117.2">1</text><text x="113" y="132.7">0</text><text x="113" y="148.2">-1</text><text x="113" y="163.7">-2</text><text x="113" y="179.2">-3</text><text x="113" y="194.7">-4</text><text x="113" y="210.2">-5</text></g>
<g class="tk tm"><text x="188" y="224">02</text><text x="260" y="224">04</text><text x="332" y="224">06</text><text x="404" y="224">08</text><text x="476" y="224">10</text><text x="548" y="224">12</text><text x="620" y="224">14</text><text x="692" y="224">16</text><text x="764" y="224">18</text><text x="836" y="224">20</text><text x="908" y="224">22</text></g>
<text class="tk tm" x="544" y="248">Hours, UTC</text>
<text class="tk tm" transform="translate(81,126.5) rotate(-90)">Doppler Shift (Hz)</text>
<text class="lt" x="543" y="291">Peak Amplitude by Minute</text>
<use href="#lg"/>
<path class="gd" d="M116 424.5H972M116 395.9H972M116 367.4H972M116 338.9H972M116 310.3H972"/>
<g clip-path="url(#cl)"><polyline class="dl" transform="translate(116,453) scale(3.56667,-0.57069)" points="0,35 1,33 2,36 3,31 4,34 5,30 6,33 7,28 8,30 10,24 12,18 14,12 16,8 18,6 20,4 30,4 40,4 50,3 60,4 70,4 80,5 81,12 82,4 90,4 100,5 110,5 118,6 119,25 120,6 125,8 128,15 130,12 132,20 134,10 135,8 137,25 140,35 142,40 144,45 146,40 148,35 150,30 152,32 155,35 158,40 160,45 162,48 164,50 165,65 166,100 167,200 168,130 169,170 170,190 171,120 172,90 173,80 174,60 175,55 176,50 178,48 180,50 181,260 182,50 184,48 186,50 188,45 190,42 192,48 194,45 196,50 198,48 200,50 201,100 202,55 204,60 206,55 208,58 210,55 212,60 214,65 216,70 218,85 219,95 220,80 222,75 224,85 226,90 227,110 228,95 230,90 232,75 234,70 236,65 238,55 239,45 240,40"/></g>
<use href="#lb"/>
<g class="tk te"><text x="108.5" y="459">0.00000</text><text x="108.5" y="430.5">0.00005</text><text x="108.5" y="401.9">0.00010</text><text x="108.5" y="373.4">0.00015</text><text x="108.5" y="344.9">0.00020</text><text x="108.5" y="316.3">0.00025</text></g>
<g class="tk tm"><text x="116" y="474">00</text><text x="187.3" y="474">02</text><text x="258.7" y="474">04</text><text x="330" y="474">06</text><text x="401.3" y="474">08</text><text x="472.7" y="474">10</text><text x="544" y="474">12</text><text x="615.3" y="474">14</text><text x="686.7" y="474">16</text><text x="758" y="474">18</text><text x="829.3" y="474">20</text><text x="900.7" y="474">22</text><text x="972" y="474">24</text></g>
<text class="tk tm" x="544" y="498">Hours, UTC</text>
<text class="tk tm" transform="translate(29.5,375.5) rotate(-90)">Amplitude, uncalibrated units</text>
</g>
</svg>
</body></html>
